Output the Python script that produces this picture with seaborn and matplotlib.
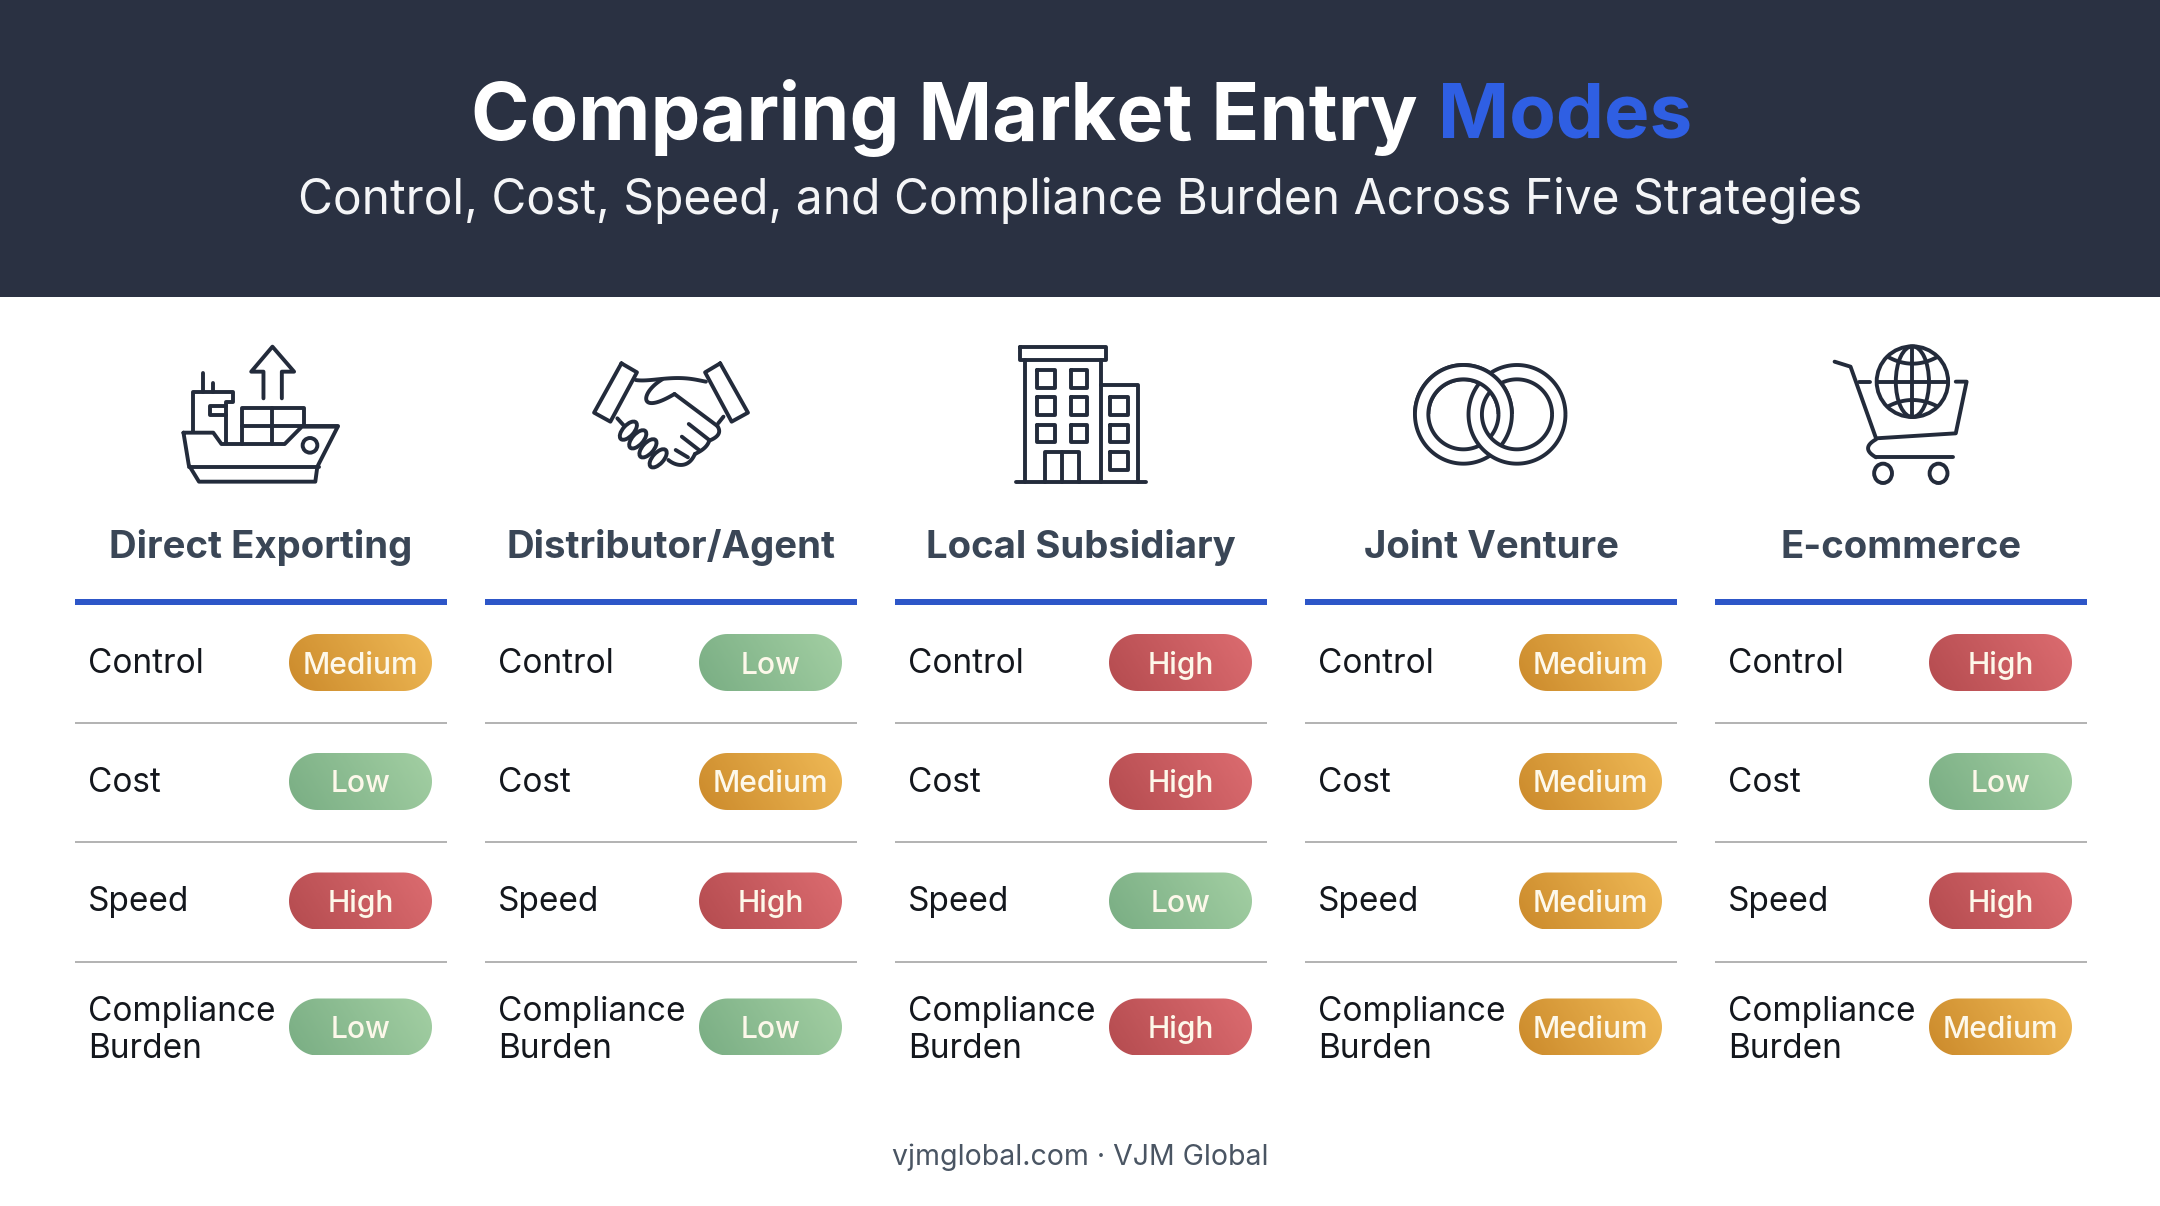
import numpy as np
import pandas as pd
import matplotlib
matplotlib.use("Agg")
import matplotlib.pyplot as plt
import seaborn as sns
from matplotlib.patches import Rectangle, Ellipse, PathPatch
from matplotlib.path import Path

# ---------- data ----------
strategies = ["Direct Exporting", "Distributor/Agent", "Local Subsidiary", "Joint Venture", "E-commerce"]
metrics = ["Control", "Cost", "Speed", "Compliance\nBurden"]
direct_exporting = ["Medium", "Low", "High", "Low"]
distributor_agent = ["Low", "Medium", "High", "Low"]
local_subsidiary = ["High", "High", "Low", "High"]
joint_venture = ["Medium", "Medium", "Medium", "Medium"]
e_commerce = ["High", "Low", "High", "Medium"]
all_levels = [direct_exporting, distributor_agent, local_subsidiary, joint_venture, e_commerce]
title_main = "Comparing Market Entry"
title_accent = "Modes"
subtitle = "Control, Cost, Speed, and Compliance Burden Across Five Strategies"
footer = "vjmglobal.com · VJM Global"

# ---------- style ----------
HEADER = "#2A3142"; INK = "#232B3B"; BLUE = "#2F5FE3"; RULE = "#2D56C8"; GREY = "#B4B4B4"
level_cols = {"Low": ("#7AAE84", "#A3CFA3"), "Medium": ("#CC8B2C", "#EFB956"), "High": ("#B54C50", "#DC6C70")}
COL_LEFT, COL_STEP, COL_W = 75, 410, 372
ROW_Y = [662.5, 781.5, 901, 1027]
RULE_Y = [722.5, 842, 961.5]
LABEL_BASE = [673, 792, 911, 1058]
PILL_W, PILL_H, PILL_RIGHT = 143, 57, 432 - 75

sns.set_theme(style="white", rc={"axes.facecolor": "white", "figure.facecolor": "white"})
plt.rcParams["font.family"] = ["Inter", "DejaVu Sans"]

fig = plt.figure(figsize=(21.6, 12.06), dpi=100)
ax = fig.add_axes([0, 0, 1, 1])

records = [
    dict(strategy=s, metric=m, level=l,
         x=COL_LEFT + i * COL_STEP + PILL_RIGHT - PILL_W / 2, y=ROW_Y[j])
    for i, (s, ls) in enumerate(zip(strategies, all_levels))
    for j, (m, l) in enumerate(zip(metrics, ls))
]
df = pd.DataFrame(records)
sns.scatterplot(data=df, x="x", y="y", hue="level", palette={k: v[0] for k, v in level_cols.items()},
                s=900, linewidth=0, legend=False, ax=ax, zorder=2)
ax.axis("off")

# header
ax.add_patch(Rectangle((0, 0), 2160, 297, fc=HEADER, ec="none", zorder=1))
ax.text(471, 118, title_main, color="white", fontsize=57, fontweight="bold", va="center", ha="left", zorder=5)
ax.text(1438, 118, title_accent, color=BLUE, fontsize=55, fontweight="bold", va="center", ha="left", zorder=5)
ax.text(1080, 201, subtitle, color="#F4F5F7", fontsize=34.5, va="center", ha="center", zorder=5)
ax.text(1080, 1157, footer, color="#4A5563", fontsize=20.5, va="center", ha="center", zorder=5)

def stadium(x0, y0, w, h):
    r = h / 2
    t = np.linspace(-np.pi / 2, np.pi / 2, 40)
    right = np.c_[x0 + w - r + r * np.cos(t), y0 + r + r * np.sin(t)]
    left = np.c_[x0 + r - r * np.cos(t), y0 + r - r * np.sin(t)]
    return Path(np.vstack([right, left, right[:1]]), closed=True)

# pills
for _, r in df.iterrows():
    x0, y0 = r.x - PILL_W / 2, r.y - PILL_H / 2
    c0, c1 = level_cols[r.level]
    ramp = np.array(sns.blend_palette([c0, c1], 64))
    gx, gy = np.meshgrid(np.linspace(0, 1, 64), np.linspace(0, 1, 16))
    idx = np.clip((0.8 * gx + 0.2 * (1 - gy)) * 63, 0, 63).astype(int)
    im = ax.imshow(ramp[idx], extent=(x0, x0 + PILL_W, y0 + PILL_H, y0), aspect="auto", zorder=3, interpolation="bilinear")
    clip = PathPatch(stadium(x0, y0, PILL_W, PILL_H), fc="none", ec="none")
    ax.add_patch(clip)
    im.set_clip_path(clip)
    ax.text(r.x, r.y + 11, r.level, color="#FDF8EA", fontsize=21.6, fontweight="medium", ha="center", va="baseline", zorder=5)

# headings, rules, row labels
for i, s in enumerate(strategies):
    left = COL_LEFT + i * COL_STEP
    ax.text(left + COL_W / 2, 558, s, color="#3A4656", fontsize=27.6, fontweight="bold", ha="center", va="baseline", zorder=5)
    ax.add_patch(Rectangle((left, 599), COL_W, 6, fc=RULE, ec="none", zorder=2))
    for y in RULE_Y:
        ax.add_patch(Rectangle((left, y - 1), COL_W, 2.2, fc=GREY, ec="none", zorder=2))
    for j, m in enumerate(metrics):
        ax.text(left + 13, LABEL_BASE[j], m, color="#14171D", fontsize=24, ha="left", va="baseline",
                linespacing=1.2, zorder=5)

# ---------- icons (outline drawings) ----------
LW = 2.8
def mapper(ox, oy, sx, sy):
    return lambda pts: [(ox + px / sx, oy + py / sy) for px, py in pts]

def line(m, pts, closed=False):
    p = m(pts)
    if closed:
        p = p + [p[0]]
    xs, ys = zip(*p)
    ax.plot(xs, ys, color=INK, lw=LW, solid_capstyle="round", solid_joinstyle="round", zorder=4)

def ell(ox, oy, sx, sy, cx, cy, w, h, angle=0, fc="none"):
    ax.add_patch(Ellipse((ox + cx / sx, oy + cy / sy), w / sx, h / sy, angle=angle, fc=fc, ec=INK, lw=LW, zorder=4))

def curve(m, pts):
    p = np.array(m(pts), dtype=float)
    out = []
    for t in np.linspace(0, 1, 40):
        q = p.copy()
        while len(q) > 1:
            q = (1 - t) * q[:-1] + t * q[1:]
        out.append(q[0])
    out = np.array(out)
    ax.plot(out[:, 0], out[:, 1], color=INK, lw=LW, solid_capstyle="round", zorder=4)

# ship
S = (150, 320, 2.45, 3)
m = mapper(*S)
line(m, [(82,338),(155,338),(175,372),(330,372),(372,320),(460,320),(410,440),(405,485),(120,485),(95,435)], True)
line(m, [(95,440),(415,440)])
line(m, [(278,235),(278,155),(248,155),(300,80),(353,155),(323,155),(323,235)])
line(m, [(105,335),(105,215),(203,215),(203,245),(187,245),(187,370)])
line(m, [(187,258),(147,258),(147,285),(187,285)])
line(m, [(130,160),(130,215)]); line(m, [(155,190),(155,215)])
line(m, [(225,372),(225,265),(378,265),(378,318)])
line(m, [(300,265),(300,372)]); line(m, [(225,318),(460,318)])
ell(*S, 392, 376, 36, 44)

# handshake
line(m, [(1155,130),(1193,157),(1128,305),(1088,278)], True)
line(m, [(1397,130),(1465,278),(1425,305),(1360,157)], True)
curve(m, [(1190,180),(1230,188),(1290,160),(1330,178),(1362,185)])
curve(m, [(1255,178),(1205,215),(1200,265),(1230,262),(1285,222)])
line(m, [(1285,222),(1390,318)])
curve(m, [(1390,318),(1405,345),(1370,362)])
line(m, [(1320,312),(1370,360)])
line(m, [(1303,350),(1345,390)])
curve(m, [(1370,362),(1365,385),(1335,402)])
line(m, [(1288,390),(1318,412)])
curve(m, [(1335,402),(1320,445),(1290,440),(1270,420)])
line(m, [(1145,295),(1162,318)]); line(m, [(1405,290),(1392,310)])
for cx, cy in [(1172,332),(1195,358),(1220,385),(1245,415)]:
    ell(*S, cx, cy, 55, 33, angle=-48, fc="white")

# building
B = (980, 320, 1.568, 3)
m = mapper(*B)
line(m, [(62,80),(198,80),(198,120),(62,120)], True)
line(m, [(70,120),(70,485)]); line(m, [(190,120),(190,485)])
line(m, [(190,195),(248,195),(248,485)]); line(m, [(56,485),(260,485)])
for yy in [(150,203),(232,285),(314,367)]:
    for xx in [(90,118),(142,168)]:
        line(m, [(xx[0],yy[0]),(xx[1],yy[0]),(xx[1],yy[1]),(xx[0],yy[1])], True)
for yy in [(232,285),(314,367),(396,450)]:
    line(m, [(204,yy[0]),(232,yy[0]),(232,yy[1]),(204,yy[1])], True)
line(m, [(102,485),(102,395),(156,395),(156,485)]); line(m, [(128,395),(128,485)])

# interlocked rings
def ring_patch(cx):
    x, y = 980 + cx / 1.568, 320 + 283 / 3
    t = np.linspace(0, 2 * np.pi, 181)
    outer = np.c_[x + 76 / 1.568 * np.cos(t), y + 148 / 3 * np.sin(t)]
    inner = np.c_[x + 55 / 1.568 * np.cos(t[::-1]), y + 105 / 3 * np.sin(t[::-1])]
    return PathPatch(Path.make_compound_path(Path(outer), Path(inner)), fc="white", ec=INK, lw=LW, zorder=4)
ax.add_patch(ring_patch(758))
ax.add_patch(ring_patch(842))
top = ring_patch(758)
ax.add_patch(top)
top.set_clip_path(Rectangle((1400, 320), 200, 94, transform=ax.transData))

# cart with globe
line(m, [(1340,125),(1365,140),(1405,355),(1530,340),(1547,185),(1530,185)])
line(m, [(1378,185),(1395,185)])
curve(m, [(1405,358),(1380,385),(1405,412)])
line(m, [(1405,412),(1525,412)])
ell(*B, 1416, 460, 28, 58); ell(*B, 1503, 460, 28, 58)
ell(*B, 1462, 185, 112, 212, fc="white"); ell(*B, 1462, 185, 52, 212)
line(m, [(1462,80),(1462,290)]); line(m, [(1408,185),(1517,185)])
curve(m, [(1425,112),(1462,150),(1500,112)])
curve(m, [(1425,258),(1462,222),(1500,258)])

ax.set_xlim(0, 2160); ax.set_ylim(1206, 0)
fig.savefig("out.png", dpi=100, facecolor="white")
